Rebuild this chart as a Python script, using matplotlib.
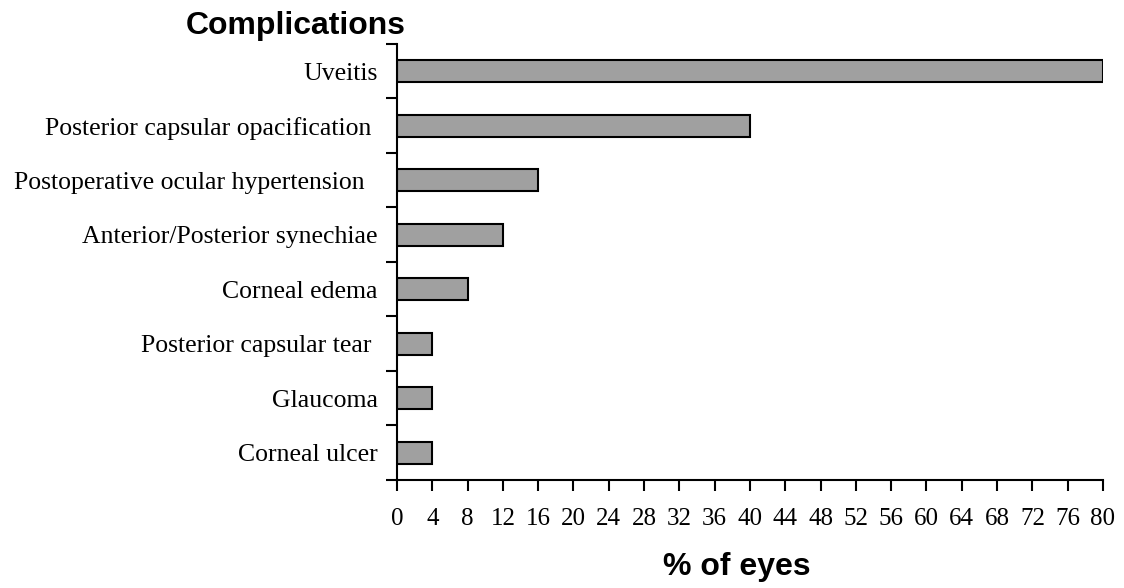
import numpy as np
import matplotlib.pyplot as plt

complications = ["Uveitis", "Posterior capsular opacification ",
                 "Postoperative ocular hypertension  ", "Anterior/Posterior synechiae",
                 "Corneal edema", "Posterior capsular tear ", "Glaucoma", "Corneal ulcer"]
pct_eyes = [80, 40, 16, 12, 8, 4, 4, 4]
xticks = list(range(0, 81, 4))

fig = plt.figure(figsize=(11.24, 5.88), dpi=100)
ax = fig.add_axes([0.3532, 0.1837, 0.6281, 0.7415])

pos = np.arange(len(complications))[::-1]
ax.barh(pos, pct_eyes, height=0.4, color="#a0a0a0", edgecolor="black", linewidth=1.5)

ax.set_xlim(0, 80)
ax.set_ylim(-0.5, len(complications) - 0.5)
ax.set_xticks(xticks)
ax.set_xticklabels([str(t) for t in xticks], family="Liberation Serif", fontsize=18)
ax.set_yticks(np.arange(-0.5, len(complications), 1.0))
ax.set_yticklabels([])
ax.set_yticks(pos, minor=True)
ax.set_yticklabels(complications, minor=True, family="Liberation Serif", fontsize=18.5)
ax.tick_params(axis="y", which="major", length=8, width=1.5, direction="out")
ax.tick_params(axis="y", which="minor", length=0, pad=14)
ax.tick_params(axis="x", length=8, width=1.5, direction="out", pad=12)

for s in ["top", "right"]:
    ax.spines[s].set_visible(False)
for s in ["left", "bottom"]:
    ax.spines[s].set_linewidth(1.5)

ax.set_xlabel("% of eyes", family="Liberation Sans", fontweight="bold", fontsize=23)
ax.xaxis.set_label_coords(0.482, -0.165)
fig.text(0.165, 0.955, "Complications", family="Liberation Sans", fontweight="bold",
         fontsize=23, va="center")

fig.savefig("out.png")
